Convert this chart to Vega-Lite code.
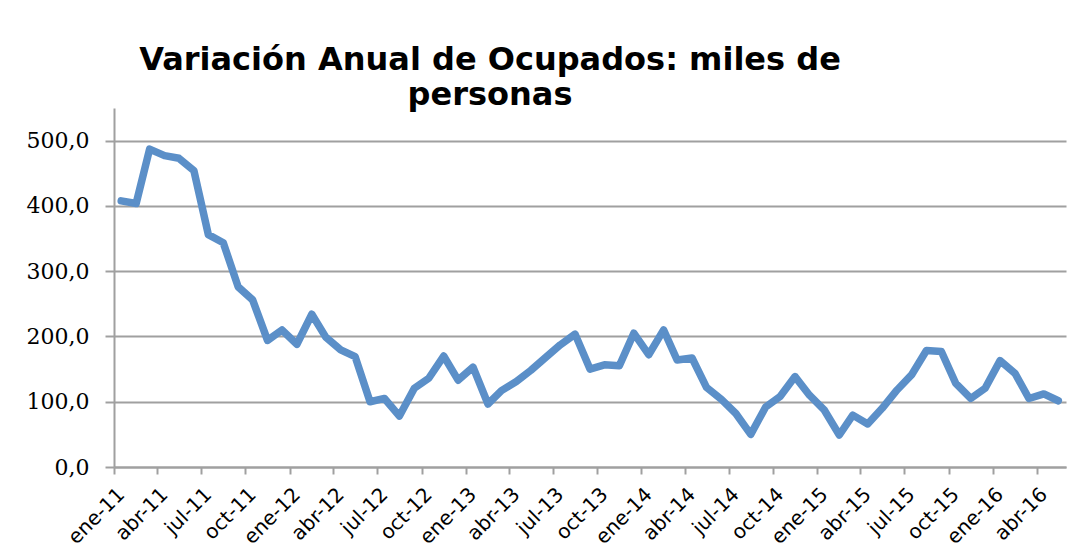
{
  "$schema": "https://vega.github.io/schema/vega-lite/v6.json",
  "autosize": "none",
  "width": 952,
  "height": 359,
  "padding": {"left": 114, "top": 108, "right": 23, "bottom": 89},
  "background": "white",
  "title": {
    "text": ["Variación Anual de Ocupados: miles de", "personas"],
    "font": "DejaVu Sans",
    "fontWeight": "bold",
    "fontSize": 32,
    "lineHeight": 35,
    "color": "#000000",
    "anchor": "middle",
    "frame": "group",
    "dx": -100,
    "dy": 4,
    "offset": 0
  },
  "data": {
    "values": [
      {"mes": "2011-01-16", "valor": 407.7},
      {"mes": "2011-02-16", "valor": 403.7},
      {"mes": "2011-03-16", "valor": 487.0},
      {"mes": "2011-04-16", "valor": 477.0},
      {"mes": "2011-05-16", "valor": 473.0},
      {"mes": "2011-06-16", "valor": 454.0},
      {"mes": "2011-07-16", "valor": 356.0},
      {"mes": "2011-08-16", "valor": 343.6},
      {"mes": "2011-09-16", "valor": 276.0},
      {"mes": "2011-10-16", "valor": 256.0},
      {"mes": "2011-11-16", "valor": 194.0},
      {"mes": "2011-12-16", "valor": 210.0},
      {"mes": "2012-01-16", "valor": 188.0},
      {"mes": "2012-02-16", "valor": 234.0},
      {"mes": "2012-03-16", "valor": 199.0},
      {"mes": "2012-04-16", "valor": 179.5},
      {"mes": "2012-05-16", "valor": 169.0},
      {"mes": "2012-06-16", "valor": 100.0},
      {"mes": "2012-07-16", "valor": 105.0},
      {"mes": "2012-08-16", "valor": 78.0},
      {"mes": "2012-09-16", "valor": 120.6},
      {"mes": "2012-10-16", "valor": 136.0},
      {"mes": "2012-11-16", "valor": 170.0},
      {"mes": "2012-12-16", "valor": 133.0},
      {"mes": "2013-01-16", "valor": 153.0},
      {"mes": "2013-02-16", "valor": 96.5},
      {"mes": "2013-03-16", "valor": 117.0},
      {"mes": "2013-04-16", "valor": 131.0},
      {"mes": "2013-05-16", "valor": 148.0},
      {"mes": "2013-06-16", "valor": 168.0},
      {"mes": "2013-07-16", "valor": 187.0},
      {"mes": "2013-08-16", "valor": 203.6},
      {"mes": "2013-09-16", "valor": 150.0},
      {"mes": "2013-10-16", "valor": 156.5},
      {"mes": "2013-11-16", "valor": 155.0},
      {"mes": "2013-12-16", "valor": 205.0},
      {"mes": "2014-01-16", "valor": 172.0},
      {"mes": "2014-02-16", "valor": 210.0},
      {"mes": "2014-03-16", "valor": 164.0},
      {"mes": "2014-04-16", "valor": 167.0},
      {"mes": "2014-05-16", "valor": 122.0},
      {"mes": "2014-06-16", "valor": 103.6},
      {"mes": "2014-07-16", "valor": 82.0},
      {"mes": "2014-08-16", "valor": 50.0},
      {"mes": "2014-09-16", "valor": 92.0},
      {"mes": "2014-10-16", "valor": 108.0},
      {"mes": "2014-11-16", "valor": 138.5},
      {"mes": "2014-12-16", "valor": 110.0},
      {"mes": "2015-01-16", "valor": 87.0},
      {"mes": "2015-02-16", "valor": 49.0},
      {"mes": "2015-03-16", "valor": 79.5},
      {"mes": "2015-04-16", "valor": 66.0},
      {"mes": "2015-05-16", "valor": 90.0},
      {"mes": "2015-06-16", "valor": 118.0},
      {"mes": "2015-07-16", "valor": 141.0},
      {"mes": "2015-08-16", "valor": 178.5},
      {"mes": "2015-09-16", "valor": 177.0},
      {"mes": "2015-10-16", "valor": 128.0},
      {"mes": "2015-11-16", "valor": 105.0},
      {"mes": "2015-12-16", "valor": 120.6},
      {"mes": "2016-01-16", "valor": 163.0},
      {"mes": "2016-02-16", "valor": 143.6},
      {"mes": "2016-03-16", "valor": 105.0},
      {"mes": "2016-04-16", "valor": 112.0},
      {"mes": "2016-05-16", "valor": 101.5}
    ]
  },
  "mark": {
    "type": "line",
    "color": "#5b8fc8",
    "strokeWidth": 7.5,
    "strokeJoin": "round",
    "strokeCap": "round"
  },
  "encoding": {
    "x": {
      "field": "mes",
      "type": "temporal",
      "scale": {"type": "utc", "domain": ["2011-01-01", "2016-06-01"], "nice": false},
      "axis": {
        "title": null,
        "tickCount": {"interval": "month", "step": 3},
        "labelExpr": "['ene','feb','mar','abr','may','jun','jul','ago','sep','oct','nov','dic'][utcmonth(datum.value)] + '-' + utcFormat(datum.value, '%y')",
        "labelAngle": -45,
        "labelAlign": "right",
        "labelBaseline": "middle",
        "labelFont": "DejaVu Sans",
        "labelFontSize": 20,
        "labelColor": "#000000",
        "labelPadding": 17,
        "labelOffset": 7,
        "labelOverlap": false,
        "labelFlush": false,
        "tickSize": 7,
        "tickColor": "#a0a0a0",
        "tickWidth": 2,
        "domainColor": "#a0a0a0",
        "domainWidth": 2,
        "grid": false
      }
    },
    "y": {
      "field": "valor",
      "type": "quantitative",
      "scale": {"domain": [0, 550], "nice": false, "zero": true},
      "axis": {
        "title": null,
        "values": [0, 100, 200, 300, 400, 500],
        "labelExpr": "replace(format(datum.value, '.1f'), '.', ',')",
        "labelFont": "DejaVu Serif",
        "labelFontSize": 22,
        "labelColor": "#000000",
        "labelPadding": 16,
        "tickSize": 9,
        "tickColor": "#a0a0a0",
        "tickWidth": 2,
        "domainColor": "#a0a0a0",
        "domainWidth": 2,
        "grid": true,
        "gridColor": "#a0a0a0",
        "gridWidth": 2
      }
    }
  },
  "config": {
    "view": {"stroke": null}
  }
}
